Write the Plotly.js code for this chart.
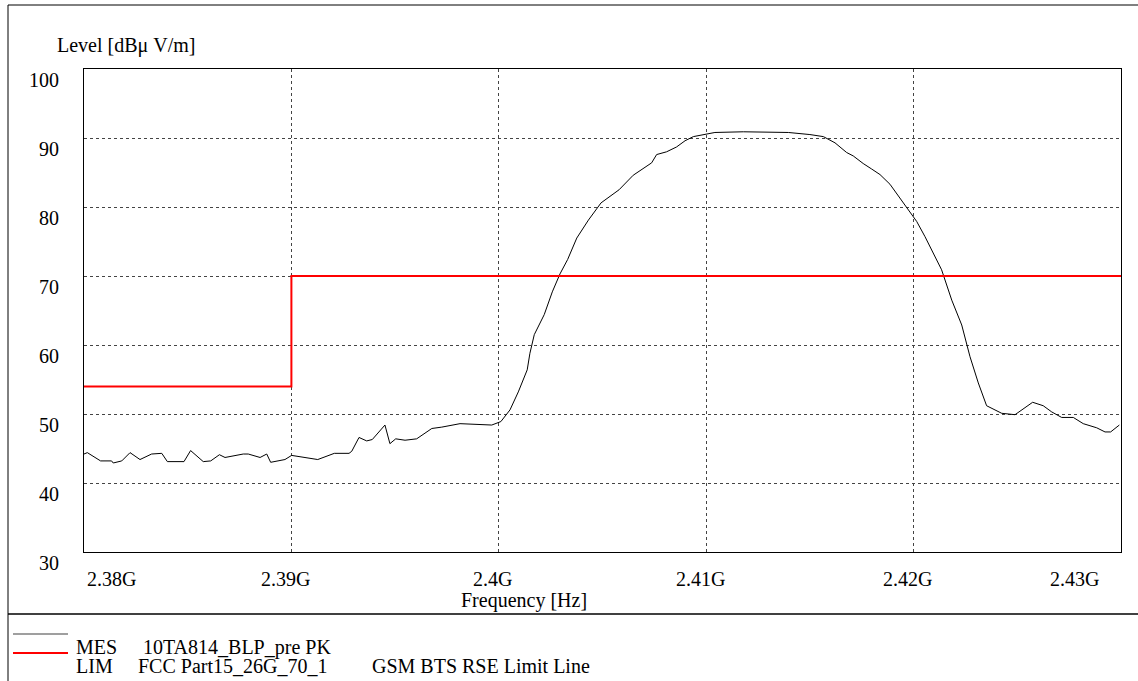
<!DOCTYPE html>
<html><head><meta charset="utf-8">
<script src="https://cdn.plot.ly/plotly-3.0.1.min.js"></script>
<style>html,body{margin:0;padding:0;background:#fff;}#chart{width:1138px;height:681px;}</style>
</head><body><div id="chart"></div>
<script>
// ---- data ----
const freqGHz = [2.38000,2.38016,2.38080,2.38133,2.38141,2.38182,2.38222,2.38270,2.38326,2.38375,
2.38402,2.38482,2.38514,2.38575,2.38611,2.38653,2.38680,2.38768,2.38792,2.38849,2.38881,2.38900,
2.38969,2.39001,2.39127,2.39207,2.39278,2.39291,2.39326,2.39363,2.39390,2.39451,2.39475,2.39503,
2.39548,2.39604,2.39677,2.39725,2.39813,2.39885,2.39966,2.40010,2.40054,2.40094,2.40137,2.40150,
2.40171,2.40219,2.40258,2.40295,2.40332,2.40376,2.40432,2.40493,2.40528,2.40580,2.40648,2.40737,
2.40761,2.40809,2.40857,2.40898,2.40938,2.40994,2.41042,2.41179,2.41291,2.41396,2.41500,2.41565,
2.41621,2.41677,2.41709,2.41757,2.41798,2.41838,2.41886,2.41940,2.41983,2.42015,2.42055,2.42095,
2.42135,2.42184,2.42232,2.42272,2.42312,2.42352,2.42425,2.42489,2.42574,2.42625,2.42666,2.42714,
2.42770,2.42818,2.42859,2.42883,2.42923,2.42950,2.42992];
const levelMes = [44.2,44.4,43.2,43.2,42.9,43.2,44.4,43.4,44.2,44.3,
43.1,43.1,44.7,43.1,43.2,44.1,43.7,44.2,44.2,43.7,44.2,43.0,
43.4,44.0,43.4,44.3,44.3,44.6,46.6,46.1,46.3,48.4,45.7,46.4,
46.2,46.4,47.9,48.1,48.6,48.5,48.4,48.9,50.6,53.2,56.4,58.8,
61.5,64.4,67.7,70.3,72.4,75.5,78.1,80.6,81.4,82.5,84.6,86.4,
87.6,88.0,88.7,89.6,90.2,90.5,90.8,90.9,90.9,90.8,90.5,90.2,
89.3,87.9,87.4,86.3,85.5,84.7,83.3,81.0,79.3,77.9,75.7,73.3,
70.9,66.5,62.9,58.3,54.5,51.2,50.1,49.9,51.7,51.2,50.3,49.5,
49.5,48.6,48.2,48.0,47.4,47.4,48.4];
const limitFreqGHz = [2.38, 2.39, 2.39, 2.43];
const limitLevel = [54, 54, 70, 70];
const xTickVals = [2.38, 2.39, 2.40, 2.41, 2.42, 2.43];
const xTickLabels = ['2.38G', '2.39G', '2.4G', '2.41G', '2.42G', '2.43G'];
const yTickVals = [30, 40, 50, 60, 70, 80, 90, 100];
const yTickLabels = ['30', '40', '50', '60', '70', '80', '90', '100'];
const legendCodes = ['MES', 'LIM'];
const legendNames = ['10TA814_BLP_pre PK', 'FCC Part15_26G_70_1'];
const legendNotes = ['', 'GSM BTS RSE Limit Line'];
const legendColors = ['#7f7f7f', '#ff0000'];
const yTitle = 'Level [dBμ V/m]';
const xTitle = 'Frequency [Hz]';

// ---- layout helpers (pixel -> paper) ----
const W = 1138, H = 681, L = 84, R = 17, T = 69, B = 129;
const PW = W - L - R, PH = H - T - B;
const px = p => (p - L) / PW;
const py = p => (H - B - p) / PH;
const FONT = '"Liberation Serif", "Times New Roman", serif';

const traces = [
  {x: freqGHz, y: levelMes, type: 'scatter', mode: 'lines', line: {color: '#000000', width: 1}, hoverinfo: 'skip'},
  {x: limitFreqGHz, y: limitLevel, type: 'scatter', mode: 'lines', line: {color: '#ff0000', width: 2}, hoverinfo: 'skip'}
];

const annotations = [];
xTickVals.forEach((v, i) => {
  const last = i === xTickVals.length - 1;
  annotations.push({x: v, xref: 'x', y: py(579), yref: 'paper', text: xTickLabels[i], showarrow: false,
    xanchor: i === 0 ? 'left' : (last ? 'right' : 'center'), xshift: i === 0 ? 1 : (last ? -20 : -6), yanchor: 'middle',
    font: {family: FONT, size: 20, color: '#000'}});
});
annotations.push({x: px(524), xref: 'paper', y: py(600), yref: 'paper', text: xTitle, showarrow: false,
  xanchor: 'center', yanchor: 'middle', font: {family: FONT, size: 20, color: '#000'}});
annotations.push({x: px(55), xref: 'paper', y: py(46), yref: 'paper', text: yTitle, showarrow: false,
  xanchor: 'left', yanchor: 'middle', font: {family: FONT, size: 20, color: '#000'}});

const shapes = [
  {type: 'line', xref: 'paper', yref: 'paper', x0: px(8), x1: px(8), y0: py(5), y1: py(681), line: {color: '#000', width: 1}},
  {type: 'line', xref: 'paper', yref: 'paper', x0: px(8), x1: px(1138), y0: py(5), y1: py(5), line: {color: '#000', width: 1}},
  {type: 'line', xref: 'paper', yref: 'paper', x0: px(8), x1: px(1138), y0: py(614), y1: py(614), line: {color: '#000', width: 1.5}}
];
const legLineY = [634, 653];
const legTextY = [647, 666];
const nameX = [141, 136];
legendCodes.forEach((c, i) => {
  shapes.push({type: 'line', xref: 'paper', yref: 'paper', x0: px(13), x1: px(68), y0: py(legLineY[i]), y1: py(legLineY[i]),
    line: {color: legendColors[i], width: i === 0 ? 1.5 : 2}});
  annotations.push({x: px(74), xref: 'paper', y: py(legTextY[i]), yref: 'paper', text: c, showarrow: false,
    xanchor: 'left', yanchor: 'middle', font: {family: FONT, size: 20, color: '#000'}});
  annotations.push({x: px(nameX[i]), xref: 'paper', y: py(legTextY[i]), yref: 'paper', text: legendNames[i], showarrow: false,
    xanchor: 'left', yanchor: 'middle', font: {family: FONT, size: 20, color: '#000'}});
  if (legendNotes[i]) annotations.push({x: px(370), xref: 'paper', y: py(legTextY[i]), yref: 'paper', text: legendNotes[i], showarrow: false,
    xanchor: 'left', yanchor: 'middle', font: {family: FONT, size: 20, color: '#000'}});
});

const layout = {
  width: W, height: H, margin: {l: L, r: R, t: T, b: B, pad: 0},
  paper_bgcolor: '#ffffff', plot_bgcolor: '#ffffff', showlegend: false,
  font: {family: FONT, size: 20, color: '#000'},
  xaxis: {range: [2.38, 2.43], tickvals: xTickVals, showticklabels: false, ticks: '',
    showgrid: true, gridcolor: '#444444', griddash: 'dot', gridwidth: 1,
    showline: true, linecolor: '#000', linewidth: 1, mirror: true, zeroline: false, fixedrange: true},
  yaxis: {range: [30, 100], tickvals: yTickVals, ticktext: yTickLabels, ticks: '',
    ticklabelshift: 11, ticklabelstandoff: 20,
    tickfont: {family: FONT, size: 20, color: '#000'},
    showgrid: true, gridcolor: '#444444', griddash: 'dot', gridwidth: 1,
    showline: true, linecolor: '#000', linewidth: 1, mirror: true, zeroline: false, fixedrange: true},
  annotations: annotations, shapes: shapes
};
Plotly.newPlot('chart', traces, layout, {staticPlot: true, displayModeBar: false});
</script>
</body></html>
